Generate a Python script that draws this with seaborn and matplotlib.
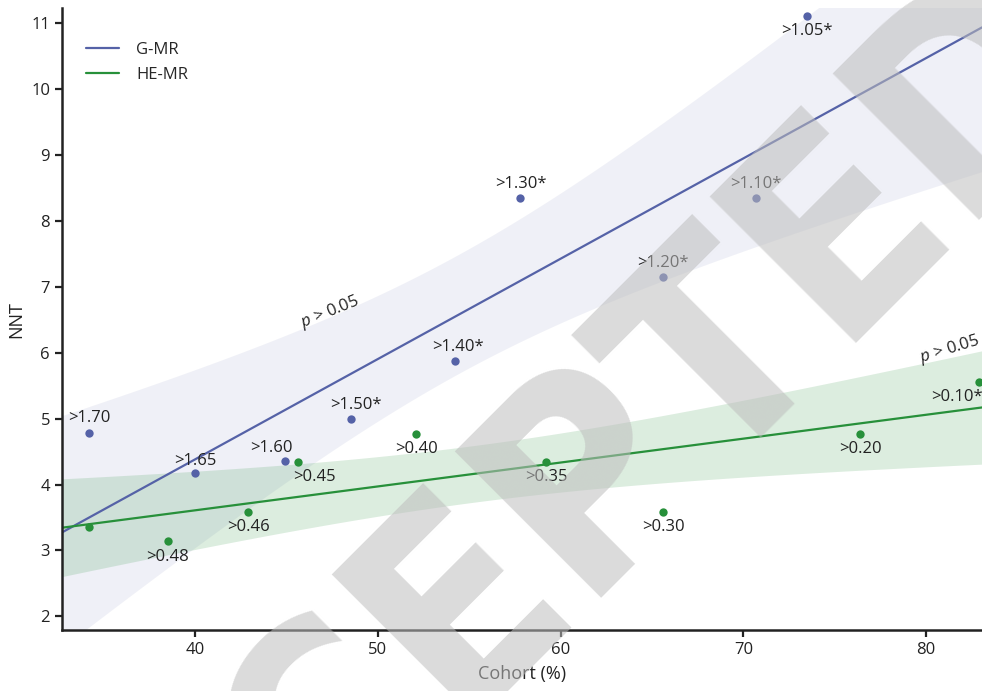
import numpy as np
import pandas as pd
import matplotlib
matplotlib.use("Agg")
import matplotlib.pyplot as plt
from matplotlib import font_manager as fm
import seaborn as sns

# values
gmr_cohort = [34.2, 40.0, 44.9, 48.5, 54.2, 57.8, 65.6, 70.7, 73.5]
gmr_nnt = [4.78, 4.17, 4.36, 5.00, 5.88, 8.35, 7.15, 8.35, 11.12]
gmr_labels = [">1.70", ">1.65", ">1.60", ">1.50*", ">1.40*", ">1.30*", ">1.20*", ">1.10*", ">1.05*"]

hemr_cohort = [34.2, 38.5, 42.9, 45.6, 52.1, 59.2, 65.6, 76.4, 82.9]
hemr_nnt = [3.35, 3.14, 3.59, 4.35, 4.77, 4.35, 3.59, 4.77, 5.56]
hemr_labels = ["", ">0.48", ">0.46", ">0.45", ">0.40", ">0.35", ">0.30", ">0.20", ">0.10*"]

# label offsets in points (dx, dy)
gmr_offsets = [(0, 11), (0, 9), (-10, 9), (4, 10), (2, 10), (0, 10), (0, 10), (0, 10), (0, -11)]
hemr_offsets = [(0, 0), (0, -11), (0, -11), (12, -11), (0, -11), (0, -11), (0, -11), (0, -11), (-16, -11)]

blue = "#5562a7"
green = "#27903a"

sns.set_style("ticks")
plt.rcParams["font.family"] = ["Open Sans", "DejaVu Sans"]
plt.rcParams["mathtext.fontset"] = "custom"
plt.rcParams["mathtext.it"] = "Open Sans:italic"

fig = plt.figure(figsize=(9.82, 6.91), dpi=100)
ax = fig.add_axes([0.063, 0.088, 0.937, 0.9])
xlim = (32.7, 83.06)
ax.set_xlim(*xlim)
ax.set_ylim(1.79, 11.23)


def ci_band(x, y, grid, t=2.3646):
    # 95% confidence band of the OLS fit (t for n - 2 = 7 dof)
    x = np.asarray(x)
    y = np.asarray(y)
    b, a = np.polyfit(x, y, 1)
    res = y - (a + b * x)
    s = np.sqrt(res @ res / (len(x) - 2))
    se = s * np.sqrt(1 / len(x) + (grid - x.mean()) ** 2 / ((x - x.mean()) ** 2).sum())
    fit = a + b * grid
    return fit - t * se, fit + t * se


grid = np.linspace(xlim[0], xlim[1], 200)
lo, hi = ci_band(gmr_cohort, gmr_nnt, grid)
ax.fill_between(grid, lo, hi, color=blue, alpha=0.09, lw=0)
lo, hi = ci_band(hemr_cohort, hemr_nnt, grid)
ax.fill_between(grid, lo, hi, color=green, alpha=0.16, lw=0)

gmr = pd.DataFrame({"cohort": gmr_cohort, "nnt": gmr_nnt})
hemr = pd.DataFrame({"cohort": hemr_cohort, "nnt": hemr_nnt})

sns.regplot(data=gmr, x="cohort", y="nnt", ax=ax, color=blue, truncate=False, ci=None,
            scatter_kws={"s": 36, "alpha": 1, "linewidths": 0},
            line_kws={"lw": 1.6, "label": "G-MR"})
sns.regplot(data=hemr, x="cohort", y="nnt", ax=ax, color=green, truncate=False, ci=None,
            scatter_kws={"s": 36, "alpha": 1, "linewidths": 0},
            line_kws={"lw": 1.6, "label": "HE-MR"})

for x, y, t, (dx, dy) in zip(gmr_cohort, gmr_nnt, gmr_labels, gmr_offsets):
    ax.annotate(t, (x, y), xytext=(dx, dy), textcoords="offset points",
                ha="center", va="center", fontsize=12, color="#222222")
for x, y, t, (dx, dy) in zip(hemr_cohort, hemr_nnt, hemr_labels, hemr_offsets):
    if t:
        ax.annotate(t, (x, y), xytext=(dx, dy), textcoords="offset points",
                    ha="center", va="center", fontsize=12, color="#222222")

ax.text(47.4, 6.62, "$p$ > 0.05", rotation=22, ha="center", va="center", fontsize=12, color="#222222")
ax.text(81.3, 6.05, "$p$ > 0.05", rotation=17, ha="center", va="center", fontsize=12, color="#222222")

ax.set_xticks([40, 50, 60, 70, 80])
ax.set_yticks([2, 3, 4, 5, 6, 7, 8, 9, 10, 11])
ax.set_xlabel("Cohort (%)", fontsize=13, color="#222222", labelpad=5)
ax.set_ylabel("NNT", fontsize=13, color="#222222")
ax.tick_params(labelsize=12, width=1.6, length=5, colors="#222222")
for s in ["left", "bottom"]:
    ax.spines[s].set_linewidth(1.8)
    ax.spines[s].set_color("#222222")
sns.despine(ax=ax)

leg = ax.legend(loc="upper left", frameon=False, fontsize=12, handlelength=2.0,
                handletextpad=1.0, labelspacing=0.55, bbox_to_anchor=(0.01, 0.97))


# watermark: a narrow bold face if one is installed, else Open Sans Bold
def weight_of(f):
    return f.weight if isinstance(f.weight, int) else fm.weight_dict.get(f.weight, 400)


narrow = [f for f in fm.fontManager.ttflist
          if weight_of(f) >= 600 and "talic" not in f.style and "blique" not in f.style
          and ("Narrow" in f.name or f.stretch in ("condensed", "semi-condensed"))]
if narrow:
    wm_font = fm.FontProperties(fname=narrow[0].fname)
else:
    wm_font = fm.FontProperties(family="Open Sans", weight="bold")

wm = fig.text(0, 0, "ACCEPTED", fontproperties=wm_font, fontsize=100)
w100 = wm.get_window_extent(fig.canvas.get_renderer()).width
size = 100 * 1490 / w100
em_px = size * fig.dpi / 72
# centre line of the capitals passes through about (514, 540) px
d = 0.36 * em_px * 0.7071
bx, by = 514 + d, 540 + d
wm.set_fontsize(size)
wm.set_position((bx / 982, 1 - by / 691))
wm.set(rotation=45, ha="center", va="baseline", rotation_mode="anchor",
       color="#bdbdbd", alpha=0.55, zorder=10)

fig.savefig("out.png", dpi=100)
